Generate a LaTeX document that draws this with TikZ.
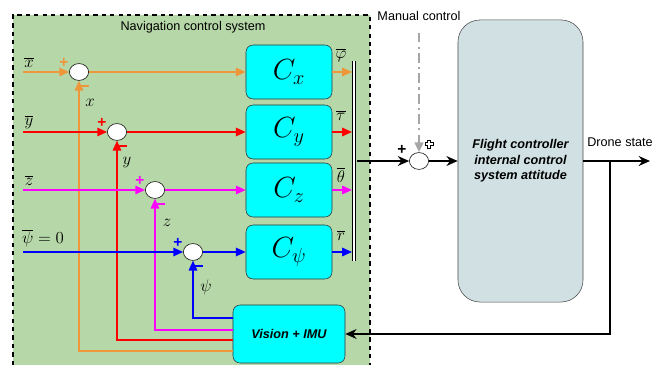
\documentclass[tikz,border=0pt]{standalone}
\usepackage{fontspec}
\setmainfont{Liberation Sans}
\usetikzlibrary{arrows.meta,shapes.geometric}
\definecolor{verde}{RGB}{182,215,168}
\definecolor{naranja}{RGB}{238,150,58}
\definecolor{grisazul}{RGB}{208,224,227}
\definecolor{celeste}{RGB}{0,255,255}
\definecolor{rosa}{RGB}{255,0,255}
\definecolor{rojo}{RGB}{255,0,0}
\definecolor{azul}{RGB}{0,0,255}
\begin{document}
\begin{tikzpicture}[x=0.025cm,y=-0.025cm]
\tikzset{bloque/.style={rectangle,rounded corners=5pt,minimum width=2.15cm,minimum height=1.35cm,draw=black!80,fill=celeste,text=black,font=\fontsize{20}{24}\selectfont}}
\tikzset{suma/.style={ellipse,minimum width=0.48cm,minimum height=0.42cm,inner sep=0pt,draw,fill=white}}
\tikzset{etiq/.style={font=\fontsize{11.5}{13}\selectfont,inner sep=1pt}}
\tikzset{signo/.style={font=\fontsize{11}{11}\selectfont\bfseries,inner sep=0pt}}
\tikzset{texto/.style={font=\fontsize{9}{11}\selectfont\bfseries\itshape,align=center}}
\tikzset{flecha/.style={-{Triangle[length=7pt,width=6pt]},line width=1.2pt}}
\tikzset{flechan/.style={-{Stealth[length=8pt,width=7pt]},line width=1.4pt}}

  \useasboundingbox (0,0) rectangle (652,365);
  \fill[verde] (13,15) rectangle (370,365);
  \draw[dashed,line width=0.8pt] (13,365) -- (13,15) -- (370,15) -- (370,365);
  \draw (193,27) node[font=\fontsize{9}{11}\selectfont](titulo){Navigation control system};

  % controladores
  \draw (289,72) node[bloque](cx){$C_x$};
  \draw (289,132) node[bloque](cy){$C_y$};
  \draw (289,190) node[bloque](cz){$C_z$};
  \draw (289,252) node[bloque](cp){$C_\psi$};
  \draw (289,334) node[bloque,minimum width=2.8cm,minimum height=1.45cm,texto](vis){Vision + IMU};
  \draw (520.5,161) node[rectangle,rounded corners=0.55cm,minimum width=3.125cm,minimum height=7.05cm,draw=black!70,fill=grisazul,texto](fc){Flight controller\\internal control\\system attitude};

  % sumadores
  \draw (79,72) node[suma](sx){};
  \draw (117,132) node[suma](sy){};
  \draw (155,190) node[suma](sz){};
  \draw (193,252) node[suma](sp){};
  \draw (419,161) node[suma](sm){};

  \coordinate (ix) at (23,72);
  \coordinate (iy) at (23,132);
  \coordinate (iz) at (23,190);
  \coordinate (ip) at (23,252);
  \coordinate (fx) at (233,351);
  \coordinate (fy) at (233,340);
  \coordinate (fz) at (233,330);
  \coordinate (fp) at (233,318);
  \coordinate (b1) at (352,61);
  \coordinate (b2) at (352,261);
  \coordinate (bs) at (357,161);

  \draw[naranja,flecha] (ix) -- (sx);
  \draw[naranja,flecha] (sx) -- (cx);
  \draw[naranja,flecha] (fx) -| (sx);
  \draw[naranja,flecha] (cx) -- (cx -| b1);
  \draw[rojo,flecha] (iy) -- (sy);
  \draw[rojo,flecha] (sy) -- (cy);
  \draw[rojo,flecha] (fy) -| (sy);
  \draw[rojo,flecha] (cy) -- (cy -| b1);
  \draw[rosa,flecha] (iz) -- (sz);
  \draw[rosa,flecha] (sz) -- (cz);
  \draw[rosa,flecha] (fz) -| (sz);
  \draw[rosa,flecha] (cz) -- (cz -| b1);
  \draw[azul,flecha] (ip) -- (sp);
  \draw[azul,flecha] (sp) -- (cp);
  \draw[azul,flecha] (fp) -| (sp);
  \draw[azul,flecha] (cp) -- (cp -| b1);

  % barra
  \draw[double,double distance=1.6pt,line width=0.6pt] ([xshift=1.4pt]b1) -- ([xshift=1.4pt]b2);

  \draw (29,62) node[etiq](lx){$\overline{x}$};
  \draw (29,122) node[etiq](ly){$\overline{y}$};
  \draw (29,180) node[etiq](lz){$\overline{z}$};
  \draw (43,238) node[etiq](lp){$\overline{\psi}=0$};
  \draw (90,103) node[etiq](vx){$x$};
  \draw (127,163) node[etiq](vy){$y$};
  \draw (167,223) node[etiq](vz){$z$};
  \draw (206,287) node[etiq](vp){$\psi$};
  \draw (341,55) node[etiq](ox){$\overline{\varphi}$};
  \draw (341,115) node[etiq](oy){$\overline{\tau}$};
  \draw (341,175) node[etiq](oz){$\overline{\theta}$};
  \draw (341,235) node[etiq](op){$\overline{r}$};

  \draw (64,63) node[signo,text=naranja](px){+};
  \draw (85,86) node[signo,text=naranja](mx){\rule{5pt}{1.7pt}};
  \draw (102,123) node[signo,text=rojo](py){+};
  \draw (123,146) node[signo,text=rojo](my){\rule{5pt}{1.7pt}};
  \draw (140,181) node[signo,text=rosa](pz){+};
  \draw (161,204) node[signo,text=rosa](mz){\rule{5pt}{1.7pt}};
  \draw (178,243) node[signo,text=azul](pp){+};
  \draw (199,266) node[signo,text=azul](mp){\rule{5pt}{1.7pt}};
  \draw (402,150) node[signo](pm){+};
  \draw[fill=white,line width=0.4pt,shift={(429,144)}] (-1.3,-3.8) -- (1.3,-3.8) -- (1.3,-1.3) -- (3.8,-1.3) -- (3.8,1.3) -- (1.3,1.3) -- (1.3,3.8) -- (-1.3,3.8) -- (-1.3,1.3) -- (-3.8,1.3) -- (-3.8,-1.3) -- (-1.3,-1.3) -- cycle;

  % lazo externo
  \draw (419,16) node[font=\fontsize{9}{11}\selectfont](mc){Manual control};
  \draw[black!35,line width=1.8pt,dash pattern=on 7pt off 3pt on 1.5pt off 3pt,-{Triangle[length=7pt,width=6pt]}] ([yshift=-5pt]mc.south) -- (sm);
  \draw[flechan] (bs) -- (sm);
  \draw[flechan] (sm) -- (fc);
  \coordinate (ds) at (650,161);
  \coordinate (rb) at (610,161);
  \draw[flechan] (fc.east) -- (ds);
  \draw (587,142) node[anchor=west,font=\fontsize{9}{11}\selectfont,inner sep=0pt](dl){Drone state};
  \draw[flechan] (rb) |- (vis);
\end{tikzpicture}
\end{document}
